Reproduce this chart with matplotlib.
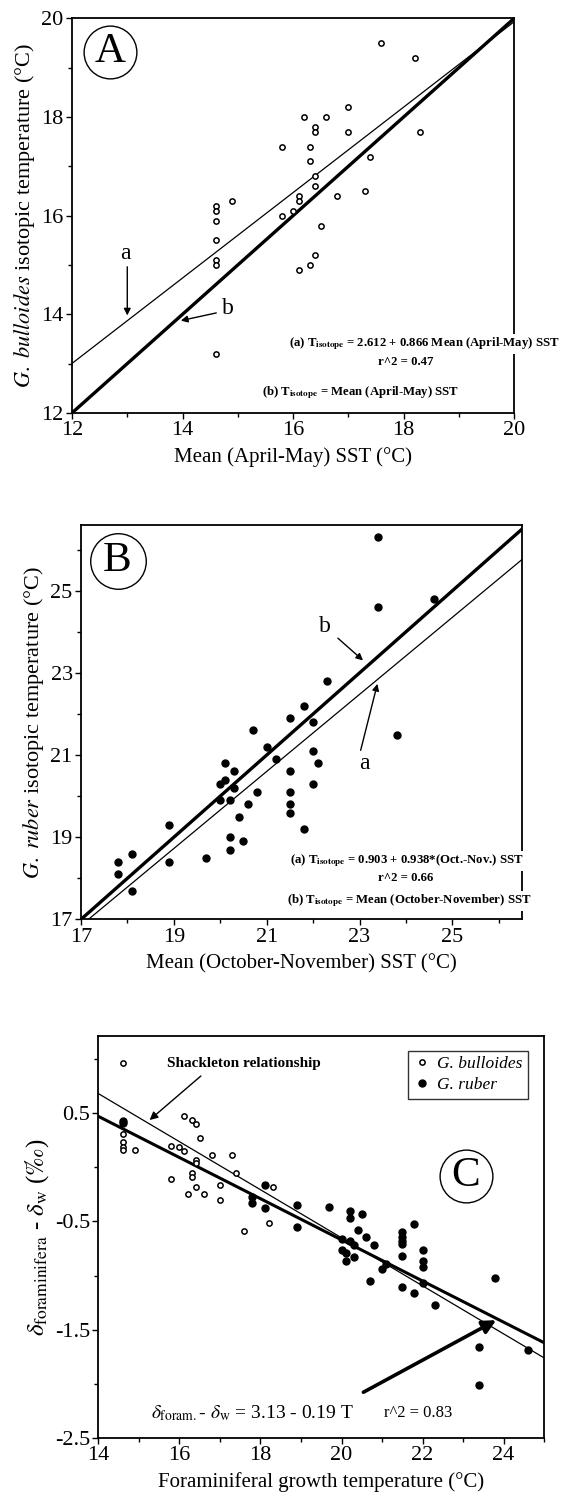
import matplotlib
matplotlib.use("Agg")
import matplotlib.pyplot as plt
import numpy as np

plt.rcParams['font.family'] = ['Liberation Serif', 'DejaVu Serif']
plt.rcParams['mathtext.fontset'] = 'stix'

# --- dados painel A (G. bulloides) ---
bull_sst = [17.6, 18.2, 16.2, 16.6, 17.0, 16.4, 16.4, 17.0, 18.3, 15.8, 16.3, 16.3,
            17.4, 16.4, 16.4, 17.3, 16.8, 16.1, 16.1, 16.0, 15.8, 14.9, 14.6, 14.6,
            14.6, 14.6, 14.6, 14.6, 16.5, 16.4, 16.3, 16.1, 14.6]
bull_iso = [19.5, 19.2, 18.0, 18.0, 18.2, 17.8, 17.7, 17.7, 17.7, 17.4, 17.4, 17.1,
            17.2, 16.8, 16.6, 16.5, 16.4, 16.4, 16.3, 16.1, 16.0, 16.3, 16.2, 16.1,
            15.9, 15.5, 15.1, 15.0, 15.8, 15.2, 15.0, 14.9, 13.2]
coef_a = (2.612, 0.866)

# --- dados painel B (G. ruber) ---
ruber_sst = [23.4, 23.4, 24.6, 22.3, 21.8, 21.5, 22.0, 20.7, 23.8, 21.0, 22.0, 21.2,
             20.1, 22.1, 20.3, 21.5, 20.1, 20.0, 22.0, 20.3, 20.8, 21.5, 20.0, 20.2,
             20.6, 21.5, 21.5, 20.4, 21.8, 18.9, 20.2, 20.5, 20.2, 19.7, 18.9, 17.8,
             18.1, 17.8, 18.1]
ruber_iso = [26.3, 24.6, 24.8, 22.8, 22.2, 21.9, 21.8, 21.6, 21.5, 21.2, 21.1, 20.9,
             20.8, 20.8, 20.6, 20.6, 20.4, 20.3, 20.3, 20.2, 20.1, 20.1, 19.9, 19.9,
             19.8, 19.8, 19.6, 19.5, 19.2, 19.3, 19.0, 18.9, 18.7, 18.5, 18.4, 18.4,
             18.6, 18.1, 17.7]
coef_b = (0.903, 0.938)

# --- dados painel C ---
c_bull_T = [14.6, 14.6, 14.6, 14.6, 14.6, 14.9, 16.1, 16.3, 16.4, 16.5, 15.8, 16.0,
            16.1, 16.8, 17.3, 16.4, 16.4, 17.4, 16.3, 16.3, 15.8, 17.0, 16.4, 18.3,
            16.2, 16.6, 17.0, 18.2, 17.6]
c_bull_d = [0.96, 0.31, 0.23, 0.19, 0.16, 0.16, 0.47, 0.44, 0.40, 0.27, 0.20, 0.19,
            0.15, 0.11, 0.11, 0.07, 0.04, -0.05, -0.05, -0.09, -0.11, -0.16, -0.18, -0.18,
            -0.25, -0.25, -0.30, -0.51, -0.59]
c_rub_T = [14.6, 14.6, 17.8, 17.8, 18.1, 18.1, 18.9, 18.9, 19.7, 20.2, 20.2, 20.5,
           20.4, 20.6, 20.0, 20.2, 20.3, 20.8, 20.0, 20.1, 20.3, 20.1, 21.0, 21.1,
           21.5, 21.5, 21.5, 21.5, 21.5, 21.8, 22.0, 22.0, 22.0, 22.0, 20.7, 21.5,
           21.8, 22.3, 23.8, 23.4, 23.4, 24.6]
c_rub_d = [0.43, 0.41, -0.27, -0.33, -0.16, -0.38, -0.35, -0.55, -0.37, -0.40, -0.47, -0.43,
           -0.58, -0.64, -0.66, -0.68, -0.72, -0.72, -0.76, -0.79, -0.83, -0.87, -0.94, -0.89,
           -0.60, -0.64, -0.68, -0.71, -0.82, -0.52, -0.76, -0.87, -0.92, -1.07, -1.05, -1.11,
           -1.16, -1.27, -1.02, -1.66, -2.01, -1.69]
coef_c = (3.13, -0.19)
shack_T = [14, 25]
shack_d = [0.68, -1.76]

fs_tick = 16
fs_xlab = 15
fs_ylab = 16
fs_eq = 9.2


def estilo(ax):
    for s in ['top', 'right', 'left', 'bottom']:
        ax.spines[s].set_linewidth(1.3)
    ax.tick_params(which='both', direction='out', labelsize=fs_tick, width=1, pad=2)
    ax.tick_params(which='major', length=4)
    ax.tick_params(which='minor', length=3)


def letra(ax, txt, x, y, ms):
    ax.plot([x], [y], 'o', ms=ms, mfc='white', mec='black', mew=1.0,
            transform=ax.transAxes, zorder=5, clip_on=False)
    ax.text(x, y, txt, transform=ax.transAxes, ha='center', va='center',
            fontsize=31, zorder=6)


fig = plt.figure(figsize=(5.64, 15.01), dpi=100)

# ---------------- A ----------------
axA = fig.add_axes([0.1277, 0.7249, 0.7837, 0.2628])
xs = np.array([12, 20])
axA.plot(xs, xs, color='black', lw=2.4, zorder=3)
axA.plot(xs, coef_a[0] + coef_a[1] * xs, color='black', lw=0.9, zorder=3)
axA.plot(bull_sst, bull_iso, 'o', ms=3.8, mfc='white', mec='black', mew=1.1, zorder=4)
axA.set_xlim(12, 20)
axA.set_ylim(12, 20)
axA.set_xticks([12, 14, 16, 18, 20])
axA.set_xticks(range(12, 21), minor=True)
axA.set_yticks([12, 14, 16, 18, 20])
axA.set_yticks(range(12, 21), minor=True)
estilo(axA)
axA.set_xlabel('Mean (April-May) SST (°C)', fontsize=fs_xlab, labelpad=5)
axA.set_ylabel(r'$\it{G.\ bulloides}$ isotopic temperature (°C)', fontsize=fs_ylab, labelpad=3)
letra(axA, 'A', 0.086, 0.916, 38)
axA.text(12.96, 15.23, 'a', fontsize=17, ha='center', va='center')
axA.annotate('', xy=(13.0, 13.92), xytext=(13.0, 15.02),
             arrowprops=dict(arrowstyle='-|>', lw=1, color='black', mutation_scale=10))
axA.text(14.82, 14.11, 'b', fontsize=17, ha='center', va='center')
axA.annotate('', xy=(13.92, 13.86), xytext=(14.66, 14.04),
             arrowprops=dict(arrowstyle='-|>', lw=1, color='black', mutation_scale=10))
eq_box = dict(facecolor='white', edgecolor='none', pad=1)
axA.text(18.37, 13.40, r'(a) T$_{\mathbf{isotope}}$ = 2.612 + 0.866 Mean (April-May) SST',
         fontsize=fs_eq, fontweight='bold', ha='center', va='center', bbox=eq_box,
         clip_on=False, zorder=7)
axA.text(18.04, 13.04, 'r^2 = 0.47', fontsize=fs_eq, fontweight='bold',
         ha='center', va='center', zorder=7)
axA.text(17.22, 12.42, r'(b) T$_{\mathbf{isotope}}$ = Mean (April-May) SST',
         fontsize=fs_eq, fontweight='bold', ha='center', va='center', bbox=eq_box,
         clip_on=False, zorder=7)

# ---------------- B ----------------
axB = fig.add_axes([0.1436, 0.3875, 0.7819, 0.2627])
xs = np.array([17, 26.5])
axB.plot(xs, xs, color='black', lw=2.4, zorder=3)
axB.plot(xs, coef_b[0] + coef_b[1] * xs, color='black', lw=0.9, zorder=3)
axB.plot(ruber_sst, ruber_iso, 'o', ms=5.0, color='black', zorder=4)
axB.set_xlim(17, 26.5)
axB.set_ylim(17, 26.6)
axB.set_xticks([17, 19, 21, 23, 25])
axB.set_xticks(range(17, 27), minor=True)
axB.set_yticks([17, 19, 21, 23, 25])
axB.set_yticks(range(17, 27), minor=True)
estilo(axB)
axB.set_xlabel('Mean (October-November) SST (°C)', fontsize=fs_xlab, labelpad=5)
axB.set_ylabel(r'$\it{G.\ ruber}$ isotopic temperature (°C)', fontsize=fs_ylab, labelpad=3)
letra(axB, 'B', 0.083, 0.910, 40)
axB.text(22.26, 24.13, 'b', fontsize=17, ha='center', va='center')
axB.annotate('', xy=(23.12, 23.26), xytext=(22.49, 23.89),
             arrowprops=dict(arrowstyle='-|>', lw=1, color='black', mutation_scale=10))
axB.text(23.11, 20.80, 'a', fontsize=17, ha='center', va='center')
axB.annotate('', xy=(23.40, 22.80), xytext=(23.01, 21.05),
             arrowprops=dict(arrowstyle='-|>', lw=1, color='black', mutation_scale=10))
axB.text(24.02, 18.42, r'(a) T$_{\mathbf{isotope}}$ = 0.903 + 0.938*(Oct.-Nov.) SST',
         fontsize=fs_eq, fontweight='bold', ha='center', va='center', bbox=eq_box,
         clip_on=False, zorder=7)
axB.text(24.0, 18.0, 'r^2 = 0.66', fontsize=fs_eq, fontweight='bold',
         ha='center', va='center', zorder=7)
axB.text(24.08, 17.45, r'(b) T$_{\mathbf{isotope}}$ = Mean (October-November) SST',
         fontsize=fs_eq, fontweight='bold', ha='center', va='center', bbox=eq_box,
         clip_on=False, zorder=7)

# ---------------- C ----------------
axC = fig.add_axes([0.1746, 0.042, 0.790, 0.2676])
ts = np.array([14, 25])
axC.plot(ts, coef_c[0] + coef_c[1] * ts, color='black', lw=2.2, zorder=3)
axC.plot(shack_T, shack_d, color='black', lw=0.9, zorder=3)
axC.plot(c_bull_T, c_bull_d, 'o', ms=3.8, mfc='white', mec='black', mew=1.1, zorder=4,
         label='G. bulloides')
axC.plot(c_rub_T, c_rub_d, 'o', ms=5.0, color='black', zorder=4, label='G. ruber')
axC.set_xlim(14, 25)
axC.set_ylim(-2.5, 1.21)
axC.set_xticks([14, 16, 18, 20, 22, 24])
axC.set_xticks(range(14, 26), minor=True)
axC.set_yticks([0.5, -0.5, -1.5, -2.5])
axC.set_yticklabels(['0.5', '-0.5', '-1.5', '-2.5'])
axC.set_yticks(np.arange(-2.5, 1.1, 0.5), minor=True)
estilo(axC)
axC.set_xlabel('Foraminiferal growth temperature (°C)', fontsize=fs_xlab, labelpad=5)
axC.set_ylabel(r'$\delta_{\rm foraminifera}$ - $\delta_{\rm w}$ ($\it{‰}$)',
               fontsize=fs_ylab + 2, labelpad=3)
leg = axC.legend(loc='upper right', bbox_to_anchor=(0.964, 0.964), borderaxespad=0,
                 frameon=True, fancybox=False, prop={'style': 'italic', 'size': 12.5},
                 handletextpad=0.4, handlelength=1.0, borderpad=0.3, labelspacing=0.3)
leg.get_frame().set_edgecolor('black')
leg.get_frame().set_linewidth(1.0)
letra(axC, 'C', 0.824, 0.652, 38)
axC.text(17.6, 0.96, 'Shackleton relationship', fontsize=11, fontweight='bold',
         ha='center', va='center')
axC.annotate('', xy=(15.21, 0.42), xytext=(16.58, 0.86),
             arrowprops=dict(arrowstyle='-|>', lw=1, color='black', mutation_scale=12))
axC.annotate('', xy=(23.88, -1.40), xytext=(20.48, -2.09),
             arrowprops=dict(arrowstyle='-|>', lw=2.6, color='black', mutation_scale=20))
axC.text(15.30, -2.27, r'$\delta_{\rm foram.}$- $\delta_{\rm w}$ = 3.13 - 0.19 T',
         fontsize=14, ha='left', va='center')
axC.text(21.9, -2.27, 'r^2 = 0.83', fontsize=12, ha='center', va='center')

fig.savefig('out.png', dpi=100)
